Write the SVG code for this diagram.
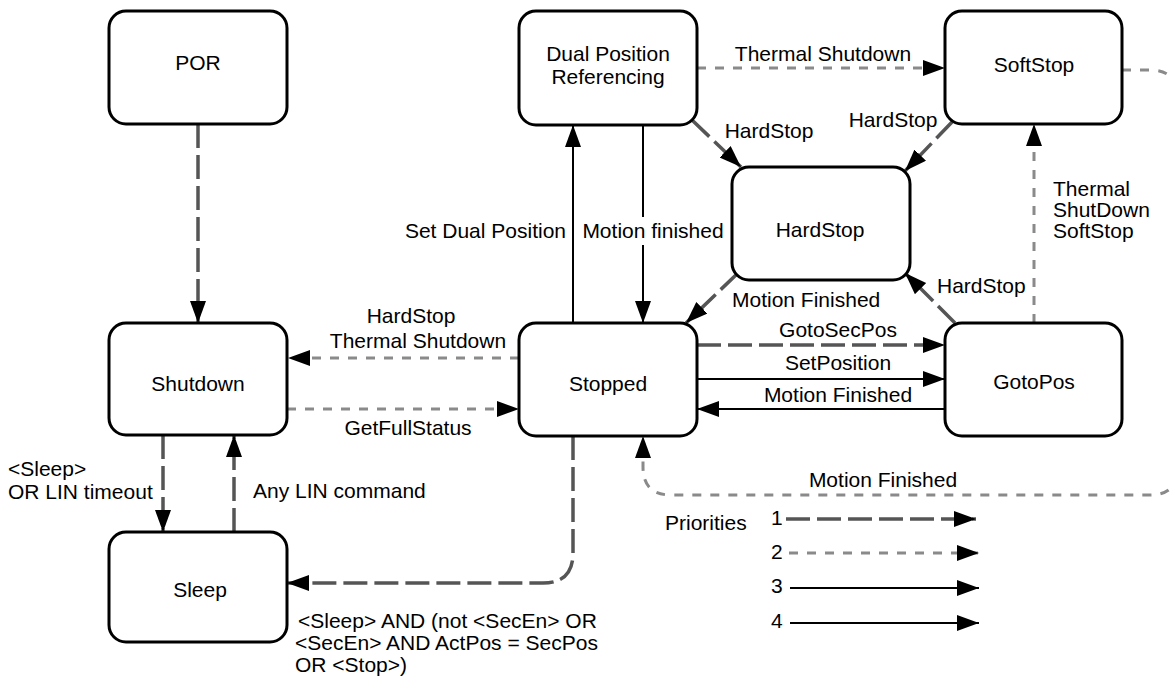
<svg xmlns="http://www.w3.org/2000/svg" width="1172" height="683" viewBox="0 0 1172 683">
<style>
text{font-family:"Liberation Sans",Arial,Helvetica,sans-serif;font-size:21px;fill:#000}
.c{text-anchor:middle}
.e{text-anchor:end}
.node rect{fill:#fff;stroke:#000;stroke-width:3}
.p1{fill:none;stroke:#555;stroke-width:3.5;stroke-dasharray:24 7}
.p2{fill:none;stroke:#8a8a8a;stroke-width:3;stroke-dasharray:9 9}
.p3{fill:none;stroke:#000;stroke-width:2}
.arr{marker-end:url(#ah)}
</style>
<defs>
<marker id="ah" markerUnits="userSpaceOnUse" markerWidth="24" markerHeight="18" refX="22" refY="8" orient="auto">
<path d="M0,0 L22,8 L0,16 z" fill="#000" stroke="none"/>
</marker>
</defs>
<rect width="1172" height="683" fill="#fff"/>
<g id="connectors">
<path class="p1 arr" d="M198,124 V323"/>
<path class="p1 arr" d="M163,435 V532"/>
<path class="p1 arr" d="M234,532 V435"/>
<path class="p1 arr" d="M573,436 V553 Q573,583 543,583 H287"/>
<path class="p2 arr" d="M287,409 H519"/>
<path class="p2 arr" d="M519,358 H288"/>
<path class="p1 arr" d="M697,345 H945"/>
<path class="p3 arr" d="M697,379 H945"/>
<path class="p3 arr" d="M945,409 H697"/>
<path class="p3 arr" d="M573,323 V125"/>
<path class="p3 arr" d="M643,125 V323"/>
<path class="p2 arr" d="M697,68 H945"/>
<path class="p1 arr" d="M692,120 L741,167"/>
<path class="p1 arr" d="M953,121 L905,171"/>
<path class="p1 arr" d="M955,323 L905,273"/>
<path class="p1 arr" d="M738,273 L686,323"/>
<path class="p2 arr" d="M1034,323 V124"/>
<path class="p2 arr" d="M1122,70 H1150 Q1178,70 1178,98 V467 Q1178,495 1150,495 H671 Q643,495 643,467 V436"/>
</g>
<g id="node-por" class="node"><rect x="109" y="11" width="178" height="113" rx="17"/><text class="c" x="198" y="70">POR</text></g>
<g id="node-dual" class="node"><rect x="519" y="11" width="178" height="114" rx="17"/><text class="c" x="608" y="61">Dual Position</text><text class="c" x="608" y="84">Referencing</text></g>
<g id="node-softstop" class="node"><rect x="945" y="11" width="177" height="113" rx="17"/><text class="c" x="1034" y="72">SoftStop</text></g>
<g id="node-hardstop" class="node"><rect x="732" y="167" width="178" height="113" rx="17"/><text class="c" x="820" y="237">HardStop</text></g>
<g id="node-shutdown" class="node"><rect x="109" y="323" width="178" height="112" rx="17"/><text class="c" x="198" y="391">Shutdown</text></g>
<g id="node-stopped" class="node"><rect x="519" y="323" width="178" height="113" rx="17"/><text class="c" x="608" y="391">Stopped</text></g>
<g id="node-gotopos" class="node"><rect x="945" y="323" width="177" height="113" rx="17"/><text class="c" x="1034" y="389">GotoPos</text></g>
<g id="node-sleep" class="node"><rect x="109" y="532" width="178" height="110" rx="17"/><text class="c" x="200" y="597">Sleep</text></g>
<g id="labels">
<text class="c" x="823" y="61">Thermal Shutdown</text>
<text class="c" x="769" y="138">HardStop</text>
<text class="c" x="893" y="127">HardStop</text>
<text x="1053" y="196">Thermal</text>
<text x="1053" y="217">ShutDown</text>
<text x="1053" y="238">SoftStop</text>
<text x="937" y="293">HardStop</text>
<text x="732" y="307">Motion Finished</text>
<text class="e" x="566" y="238">Set Dual Position</text>
<rect x="582" y="217" width="144" height="28" fill="#fff"/>
<text class="c" x="653" y="238">Motion finished</text>
<text class="c" x="411" y="323">HardStop</text>
<text class="c" x="418" y="348">Thermal Shutdown</text>
<text class="c" x="408" y="435">GetFullStatus</text>
<text class="c" x="838" y="337">GotoSecPos</text>
<text class="c" x="838" y="370">SetPosition</text>
<text class="c" x="838" y="402">Motion Finished</text>
<text class="c" x="883" y="487">Motion Finished</text>
<text x="8" y="476">&lt;Sleep&gt;</text>
<text x="8" y="499">OR LIN timeout</text>
<text x="253" y="498">Any LIN command</text>
<text x="298" y="628">&lt;Sleep&gt; AND (not &lt;SecEn&gt; OR</text>
<text x="295" y="650">&lt;SecEn&gt; AND ActPos = SecPos</text>
<text x="295" y="672">OR &lt;Stop&gt;)</text>
</g>
<g id="legend">
<text x="665" y="530">Priorities</text>
<text x="771" y="525">1</text>
<text x="771" y="559">2</text>
<text x="771" y="593">3</text>
<text x="771" y="628">4</text>
<path class="p1 arr" d="M786,519 H976"/>
<path class="p2 arr" d="M789,553 H979"/>
<path class="p3 arr" d="M790,588 H979"/>
<path class="p3 arr" d="M790,623 H979"/>
</g>
</svg>
